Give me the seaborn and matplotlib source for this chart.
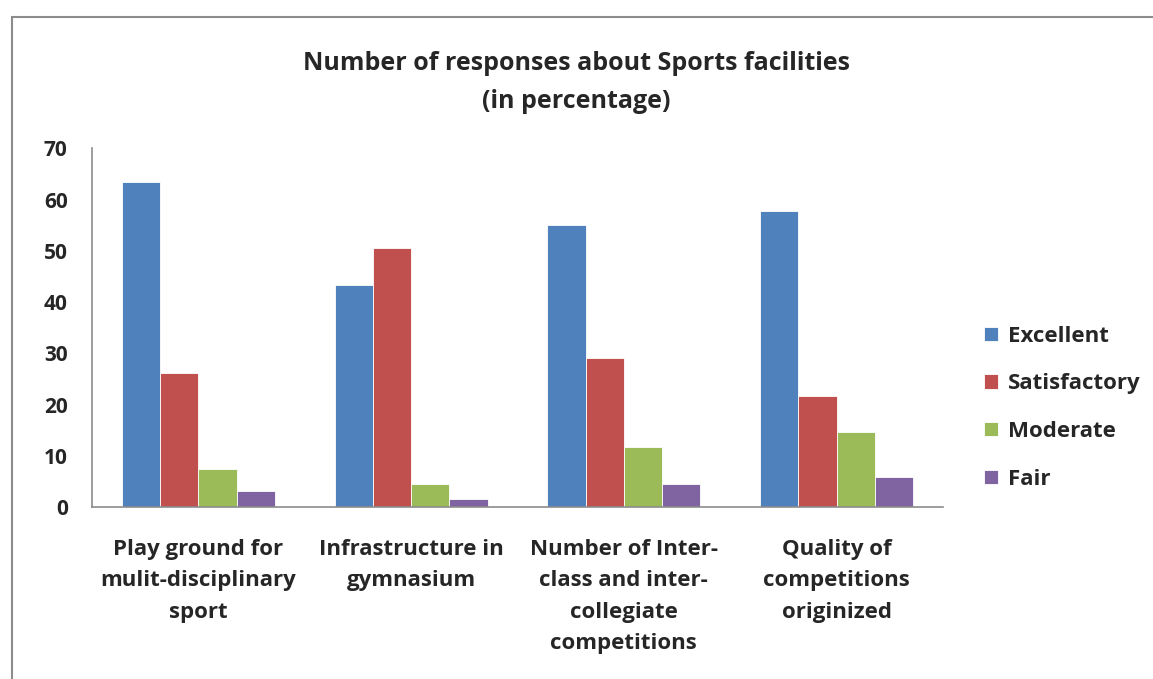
import pandas as pd
import seaborn as sns
import matplotlib.pyplot as plt
from matplotlib.patches import Rectangle

# values (percent)
categories = ['Play ground for\nmulit-disciplinary\nsport',
              'Infrastructure in\ngymnasium',
              'Number of Inter-\nclass and inter-\ncollegiate\ncompetitions',
              'Quality of\ncompetitions\noriginized']
ratings = ['Excellent', 'Satisfactory', 'Moderate', 'Fair']
excellent = [63.5, 43.4, 55.0, 57.8]
satisfactory = [26.2, 50.5, 29.0, 21.7]
moderate = [7.4, 4.4, 11.7, 14.6]
fair = [3.1, 1.6, 4.4, 5.9]
colors = ['#4F81BD', '#C0504D', '#9BBB59', '#8064A2']

rows = []
for rating, vals in zip(ratings, [excellent, satisfactory, moderate, fair]):
    for cat, v in zip(categories, vals):
        rows.append({'Category': cat, 'Rating': rating, 'Percent': v})
df = pd.DataFrame(rows)

sns.set_style('white')
plt.rcParams['font.family'] = ['Open Sans', 'DejaVu Sans']
plt.rcParams['font.weight'] = 'bold'

fig = plt.figure(figsize=(11.53, 6.79), dpi=100)
ax = fig.add_axes([0.0798, 0.2533, 0.738, 0.5283])

sns.barplot(data=df, x='Category', y='Percent', hue='Rating', hue_order=ratings,
            palette=colors, width=0.72, saturation=1, edgecolor='white',
            linewidth=0.6, ax=ax)

ax.set_ylim(0, 70)
ax.set_xlim(-0.5, 3.5)
ax.set_yticks(range(0, 71, 10))
ax.set_xlabel('')
ax.set_ylabel('')
for s in ['top', 'right']:
    ax.spines[s].set_visible(False)
for s in ['left', 'bottom']:
    ax.spines[s].set_color('#8c8c8c')
    ax.spines[s].set_linewidth(1.2)

# tick marks sit between the category groups
ax.set_xticks([-0.5, 0.5, 1.5, 2.5, 3.5], minor=True)
ax.tick_params(axis='x', which='major', length=0, pad=23, labelsize=16)
ax.tick_params(axis='x', which='minor', length=6.5, color='#8c8c8c', width=1.2, direction='out')
ax.tick_params(axis='y', length=6.5, color='#8c8c8c', width=1.2, direction='out', labelsize=15, pad=11)
for lab in ax.get_xticklabels():
    lab.set_linespacing(1.65)
    lab.set_fontweight('bold')
for lab in ax.get_yticklabels():
    lab.set_fontweight('bold')

ax.legend(loc='center left', bbox_to_anchor=(1.025, 0.277), frameon=False,
          prop={'size': 16, 'weight': 'bold'}, handlelength=0.6, handleheight=0.6,
          labelspacing=1.2, handletextpad=0.45)

fig.text(0.5, 0.879, 'Number of responses about Sports facilities\n(in percentage)',
         ha='center', va='center', fontsize=18, fontweight='bold', linespacing=1.7)

fig.patches.append(Rectangle((12 / 1153, -0.1), 1.2, 1 - 17 / 679 + 0.1,
                             transform=fig.transFigure, fill=False,
                             edgecolor='#8c8c8c', linewidth=1.5))

fig.savefig('out.png', dpi=100)
